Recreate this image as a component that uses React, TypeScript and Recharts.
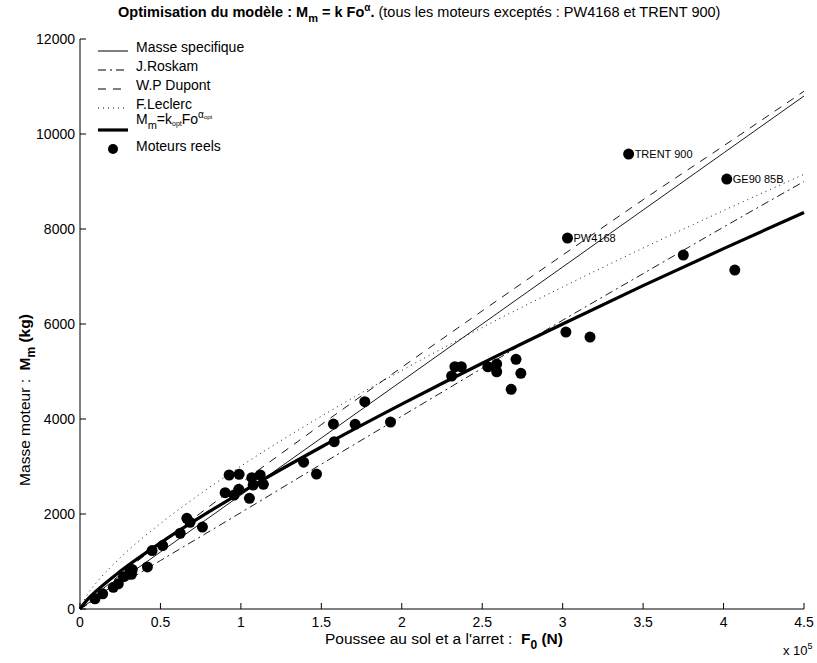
import React from 'react';
import { ComposedChart, Line, Scatter, XAxis, YAxis } from 'recharts';

const forceGrid = [0, 5000, 10000, 25000, 50000, 75000, 100000, 150000, 200000, 250000, 300000, 350000, 400000, 450000];
const masseSpecifique = [0, 120, 240, 600, 1200, 1800, 2400, 3600, 4800, 6000, 7200, 8400, 9600, 10800];
const roskam = [0, 100, 205, 510, 1020, 1525, 2030, 3050, 4060, 5070, 6080, 7060, 8040, 9000];
const dupont = [0, 159, 305, 721, 1382, 2023, 2652, 3882, 5088, 6276, 7450, 8616, 9749, 10900];
const leclerc = [0, 328, 547, 1078, 1800, 2430, 3007, 4058, 5023, 5927, 6780, 7599, 8388, 9151];
const optimal = [0, 213, 375, 793, 1393, 1939, 2451, 3411, 4312, 5174, 6000, 6807, 7586, 8349];

// moteurs réels
const engineThrust = [
  9300, 14100, 20700, 23800, 27000, 31000, 32000, 32500, 41900, 44800, 51400, 62300, 66400, 68400,
  76100, 90200, 92700, 95800, 98700, 98900, 105300, 106800, 107600, 112000, 114000, 139000, 147000,
  157500, 158000, 171000, 177000, 193000, 231000, 233000, 237000, 253500, 259000, 259000, 271000,
  268000, 274000, 302000, 317000, 303000, 341000, 402000, 375000, 407000,
];
const engineMass = [
  215, 320, 457, 530, 680, 785, 730, 830, 885, 1230, 1335, 1595, 1909, 1825,
  1726, 2448, 2821, 2400, 2519, 2835, 2330, 2764, 2610, 2821, 2625, 3090, 2840,
  3894, 3522, 3888, 4364, 3936, 4905, 5100, 5100, 5100, 5157, 4995, 5256,
  4625, 4961, 5831, 5726, 7810, 9578, 9051, 7452, 7136,
];
const engineNames: Record<number, string> = { 43: 'PW4168', 44: 'TRENT 900', 45: 'GE90 85B' };

const xTicks = [0, 50000, 100000, 150000, 200000, 250000, 300000, 350000, 400000, 450000];
const yTicks = [0, 2000, 4000, 6000, 8000, 10000, 12000];

const table = forceGrid.map((f, i) => ({
  f,
  masse: masseSpecifique[i],
  roskam: roskam[i],
  dupont: dupont[i],
  leclerc: leclerc[i],
  optimal: optimal[i],
}));

const engines = engineThrust.map((f, i) => ({ f, m: engineMass[i], name: engineNames[i] || '' }));

const FONT = 'Arial, "Liberation Sans", Helvetica, sans-serif';

const XTick = (props: any) => {
  const { x, y, payload } = props;
  return (
    <g>
      <line x1={x} x2={x} y1={y} y2={y - 6} stroke="#000" />
      <text x={x} y={y + 18} textAnchor="middle" fontSize={14} fontFamily={FONT} fill="#000">
        {String(payload.value / 100000)}
      </text>
    </g>
  );
};

const YTick = (props: any) => {
  const { x, y, payload } = props;
  return (
    <g>
      <line x1={x} x2={x + 6} y1={y} y2={y} stroke="#000" />
      <text x={x - 5} y={y + 5} textAnchor="end" fontSize={14} fontFamily={FONT} fill="#000">
        {payload.value}
      </text>
    </g>
  );
};

const EngineDot = (props: any) => {
  const { cx, cy, payload } = props;
  return (
    <g>
      <circle cx={cx} cy={cy} r={5.5} fill="#000" />
      {payload.name ? (
        <text x={cx + 6} y={cy + 4} fontSize={11} fontFamily={FONT} fill="#000">
          {payload.name}
        </text>
      ) : null}
    </g>
  );
};

const legendRows = [
  { label: 'Masse specifique', dash: undefined, width: 1, top: 47 },
  { label: 'J.Roskam', dash: '8 4 2 4', width: 1, top: 66 },
  { label: 'W.P Dupont', dash: '8 7', width: 1, top: 85 },
  { label: 'F.Leclerc', dash: '1 4', width: 1, top: 104 },
];

const sub = (t: string, size = 11) => <span style={{ fontSize: size, position: 'relative', top: 5 }}>{t}</span>;

export default function App() {
  return (
    <div style={{ position: 'absolute', left: 0, top: 0, width: 817, height: 663, background: '#fff', fontFamily: FONT, color: '#000' }}>
      <ComposedChart width={817} height={663} data={table} margin={{ top: 39, right: 13, bottom: 0, left: 0 }}>
        <XAxis
          type="number"
          dataKey="f"
          domain={[0, 450000]}
          ticks={xTicks}
          interval={0}
          height={54}
          tickSize={0}
          tickMargin={0}
          tickLine={false}
          tick={XTick}
          axisLine={{ stroke: '#000' }}
        />
        <YAxis
          type="number"
          domain={[0, 12000]}
          ticks={yTicks}
          interval={0}
          width={80}
          tickSize={0}
          tickMargin={0}
          tickLine={false}
          tick={YTick}
          axisLine={{ stroke: '#000' }}
        />
        <Line dataKey="masse" type="monotone" stroke="#000" strokeWidth={0.9} dot={false} isAnimationActive={false} />
        <Line dataKey="roskam" type="monotone" stroke="#000" strokeWidth={0.9} strokeDasharray="8 4 2 4" dot={false} isAnimationActive={false} />
        <Line dataKey="dupont" type="monotone" stroke="#000" strokeWidth={0.9} strokeDasharray="8 7" dot={false} isAnimationActive={false} />
        <Line dataKey="leclerc" type="monotone" stroke="#000" strokeWidth={0.9} strokeDasharray="1 4" dot={false} isAnimationActive={false} />
        <Line dataKey="optimal" type="monotone" stroke="#000" strokeWidth={3.2} dot={false} isAnimationActive={false} />
        <Scatter data={engines} dataKey="m" fill="#000" shape={EngineDot} isAnimationActive={false} />
      </ComposedChart>

      {/* title */}
      <div style={{ position: 'absolute', left: 118, top: 4, fontSize: 14.5, whiteSpace: 'nowrap', lineHeight: '16px' }}>
        <b>
          Optimisation du modèle : M{sub('m')} = k Fo
          <span style={{ fontSize: 10, position: 'relative', top: -6 }}>α</span>.
        </b>{' '}
        (tous les moteurs exceptés : PW4168 et TRENT 900)
      </div>

      {/* legend */}
      {legendRows.map((r) => (
        <div key={r.label} style={{ position: 'absolute', left: 98, top: r.top - 9, height: 18, display: 'flex', alignItems: 'center', fontSize: 14, whiteSpace: 'nowrap' }}>
          <svg width={30} height={18} style={{ marginRight: 8 }}>
            <line x1={0} x2={30} y1={13} y2={13} stroke="#000" strokeWidth={r.width} strokeDasharray={r.dash} />
          </svg>
          {r.label}
        </div>
      ))}
      <div style={{ position: 'absolute', left: 98, top: 111, height: 24, display: 'flex', alignItems: 'flex-start', fontSize: 14, whiteSpace: 'nowrap' }}>
        <svg width={30} height={24} style={{ marginRight: 8 }}>
          <line x1={0} x2={30} y1={19} y2={19} stroke="#000" strokeWidth={3.2} />
        </svg>
        <span style={{ lineHeight: '16px' }}>
          M{sub('m')}=k
          <span style={{ fontSize: 7, position: 'relative', top: 2 }}>opt</span>Fo
          <span style={{ fontSize: 10, position: 'relative', top: -6 }}>α</span>
          <span style={{ fontSize: 6, position: 'relative', top: -5 }}>opt</span>
        </span>
      </div>
      <div style={{ position: 'absolute', left: 98, top: 137, height: 18, display: 'flex', alignItems: 'center', fontSize: 14, whiteSpace: 'nowrap' }}>
        <svg width={30} height={18} style={{ marginRight: 8 }}>
          <circle cx={15} cy={12} r={5} fill="#000" />
        </svg>
        Moteurs reels
      </div>

      {/* axis labels */}
      <div style={{ position: 'absolute', left: 444, top: 631, transform: 'translateX(-50%)', fontSize: 15.5, lineHeight: '15px', whiteSpace: 'nowrap' }}>
        Poussee au sol et a l'arret :&nbsp;&nbsp;
        <b>
          F{sub('0', 12)} (N)
        </b>
      </div>
      <div style={{ position: 'absolute', left: 25, top: 400, transform: 'translate(-50%, -50%) rotate(-90deg)', fontSize: 15.5, lineHeight: '15px', whiteSpace: 'nowrap' }}>
        Masse moteur :&nbsp;&nbsp;
        <b>
          M{sub('m', 12)} (kg)
        </b>
      </div>
      <div style={{ position: 'absolute', left: 783, top: 643, fontSize: 13, whiteSpace: 'nowrap' }}>
        x 10<span style={{ fontSize: 9, position: 'relative', top: -6 }}>5</span>
      </div>
    </div>
  );
}
